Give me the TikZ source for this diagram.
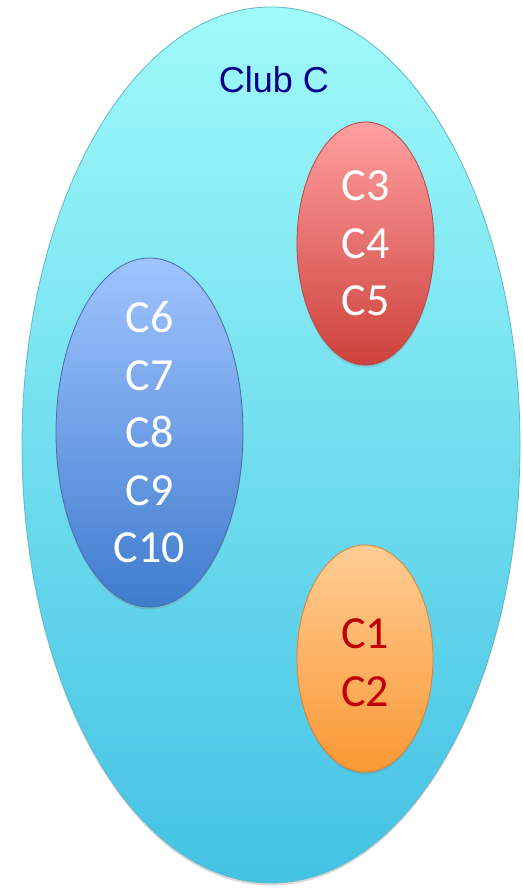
\documentclass[tikz,border=0pt]{standalone}
\usepackage{fontspec}
\setmainfont{Liberation Sans}
\newfontfamily\labelfont{Carlito}
\usepackage{tikz}
\usetikzlibrary{shapes.geometric,shadows}
\usepackage{xcolor}
\definecolor{clubtop}{RGB}{160,250,250}
\definecolor{clubbot}{RGB}{68,194,228}
\definecolor{clubedge}{RGB}{95,185,200}
\definecolor{clubtext}{RGB}{0,0,140}
\definecolor{redtop}{RGB}{255,160,160}
\definecolor{redbot}{RGB}{205,65,60}
\definecolor{rededge}{RGB}{185,70,68}
\definecolor{bluetop}{RGB}{160,196,255}
\definecolor{bluebot}{RGB}{64,124,206}
\definecolor{blueedge}{RGB}{70,108,168}
\definecolor{orangetop}{RGB}{255,205,150}
\definecolor{orangebot}{RGB}{250,152,52}
\definecolor{orangeedge}{RGB}{228,128,40}
\definecolor{memberred}{RGB}{192,0,0}
\tikzstyle{group} = [ellipse,inner sep=0pt,line width=0.8pt,
  drop shadow={opacity=0.3,shadow xshift=0pt,shadow yshift=-2.5pt}]
\tikzstyle{members} = [align=center,inner sep=0pt,
  font=\labelfont\fontsize{46}{57.5}\selectfont]

\begin{document}
\begin{tikzpicture}[x=1pt,y=1pt]
\useasboundingbox (0,0) rectangle (522,888);
% Club ellipse
\node[group, minimum width=498pt, minimum height=876pt, draw=clubedge,
  top color=clubtop, bottom color=clubbot] (club) at (271,443) {};
\node[text=clubtext, font=\fontsize{36}{40}\selectfont] (clubname) at (274,808) {Club C};

% Sub groups
\node[group, minimum width=137pt, minimum height=243pt, draw=rededge,
  top color=redtop, bottom color=redbot] (redgroup) at (365.5,644.5) {};
\node[group, minimum width=187pt, minimum height=349pt, draw=blueedge,
  top color=bluetop, bottom color=bluebot] (bluegroup) at (149.5,455.5) {};
\node[group, minimum width=136pt, minimum height=227pt, draw=orangeedge,
  top color=orangetop, bottom color=orangebot] (orangegroup) at (365,229.5) {};

% Members
\node[members, text=white] (redmembers) at (redgroup) {C3\\C4\\C5};
\node[members, text=white] (bluemembers) at (bluegroup) {C6\\C7\\C8\\C9\\C10};
\node[members, text=memberred] (orangemembers) at ([yshift=-4pt]orangegroup.center) {C1\\C2};
\end{tikzpicture}
\end{document}
